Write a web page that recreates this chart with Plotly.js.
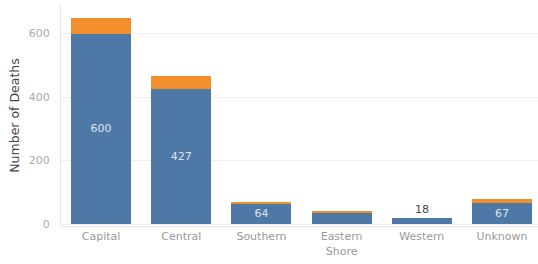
<!DOCTYPE html>
<html>
<head>
<meta charset="utf-8">
<script src="https://cdn.plot.ly/plotly-3.0.1.min.js"></script>
<style>html,body{margin:0;padding:0;background:#fff;}#chart{width:538px;height:264px;}</style>
</head>
<body>
<div id="chart"></div>
<script>
const categories = ["Capital", "Central", "Southern", "Eastern<br>Shore", "Western", "Unknown"];
const blueValues = [600, 427, 64, 36, 18, 67];
const orangeValues = [48, 40, 5, 4, 0, 11];
const blueLabels = ["600", "427", "64", "", "", "67"];
const outsideLabelIndex = [4];

const FONT = 'DejaVu Sans';
const blue = {
  type: 'bar', x: categories, y: blueValues,
  marker: {color: '#4e79a7', line: {width: 0}},
  text: blueLabels, textposition: 'inside', insidetextanchor: 'middle',
  textfont: {family: FONT, size: 11, color: '#dbe3ec'},
  width: 0.75, hoverinfo: 'none', textangle: 0
};
const orange = {
  type: 'bar', x: categories, y: orangeValues,
  marker: {color: '#f28e2b', line: {width: 0}},
  width: 0.75, hoverinfo: 'none'
};
const annotations = outsideLabelIndex.map(i => ({
  x: categories[i], y: blueValues[i] + orangeValues[i], text: String(blueValues[i]),
  showarrow: false, yanchor: 'bottom', yshift: 0,
  font: {family: FONT, size: 11, color: '#444'}
}));

Plotly.newPlot('chart', [blue, orange], {
  width: 538, height: 264,
  margin: {l: 61, r: 0, t: 5, b: 38},
  barmode: 'stack', showlegend: false,
  paper_bgcolor: '#fff', plot_bgcolor: '#fff',
  font: {family: FONT, size: 11, color: '#999'},
  xaxis: {range: [-0.5, 5.45], showgrid: false, ticks: '', showline: true, linecolor: '#e6e6e6',
          tickfont: {family: FONT, size: 11, color: '#999'}, automargin: false},
  yaxis: {range: [-6, 690], tickvals: [0, 200, 400, 600], showgrid: true, gridcolor: '#efefef',
          zeroline: false, showline: true, linecolor: '#e6e6e6', ticks: '', ticklabelstandoff: 8,
          tickfont: {family: FONT, size: 11, color: '#aaa'},
          title: {text: 'Number of Deaths', font: {family: FONT, size: 12.5, color: '#444'}, standoff: 6},
          automargin: false},
  annotations: annotations
}, {displayModeBar: false, staticPlot: true});
</script>
</body>
</html>
